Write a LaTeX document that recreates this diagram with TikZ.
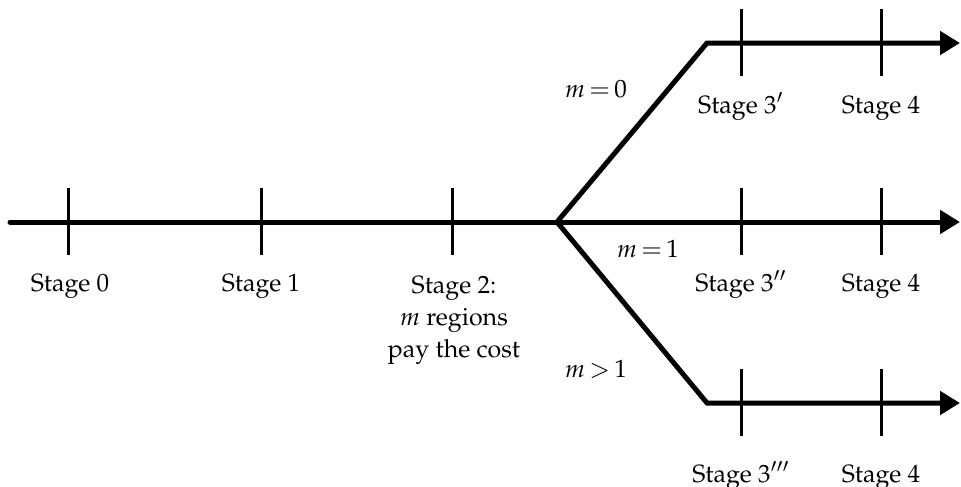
\documentclass[tikz,border=0pt]{standalone}
\usepackage[T1]{fontenc}
\usepackage{mathpazo}
\usetikzlibrary{arrows.meta}
\begin{document}
\begin{tikzpicture}[x=0.4pt,y=-0.4pt,
	axis/.style={line width=2pt,line join=miter},
	arrowaxis/.style={axis,-{Triangle[length=8pt,width=9.2pt]}},
	tick/.style={line width=1.2pt},
	lab/.style={anchor=base,inner sep=0pt,align=center}]
	\useasboundingbox (0,0) rectangle (961,487);
	\path
	(10,222) coordinate (O)
	(557,222) coordinate (F)
	(707,43) coordinate (U) (960,43) coordinate (U')
	(960,222) coordinate (M')
	(707,403) coordinate (L) (960,403) coordinate (L')
	;
	\draw[axis,line cap=round] (O)--(F);
	\draw[arrowaxis] (F)--(U)--(U');
	\draw[arrowaxis] (F)--(M');
	\draw[arrowaxis] (F)--(L)--(L');
	\foreach \x/\y in {68/222,261/222,452/222,741/43,881/43,741/222,881/222,741/403,881/403}
	\draw[tick] (\x,\y-34)--(\x,\y+33);
	\foreach \n/\x/\y/\t in {s0/70/291/{Stage 0},s1/261/291/{Stage 1},
		u3/741/113/{Stage 3$'$},u4/881/113/{Stage 4},
		m3/741/291/{Stage 3$''$},m4/881/291/{Stage 4},
		l3/741/482/{Stage 3$'''$},l4/881/482/{Stage 4}}
	\node[lab] (\n) at (\x,\y) {\t};
	\node[lab,anchor=north] (s2) at (454,276) {Stage 2:\\[0.8pt] $m$ regions\\[0.8pt] pay the cost};
	\node[lab] (b0) at (596,97) {$m\,{=}\,0$};
	\node[lab] (b1) at (648,257) {$m\,{=}\,1$};
	\node[lab] (b2) at (596,377) {$m\,{>}\,1$};
\end{tikzpicture}
\end{document}
